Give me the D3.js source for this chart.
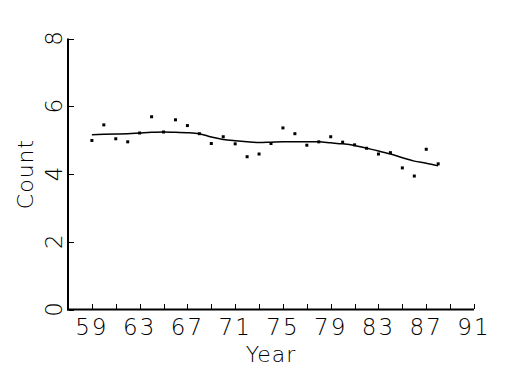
<!DOCTYPE html>
<html><head><meta charset="utf-8">
<script src="https://cdn.jsdelivr.net/npm/d3@7"></script>
<style>
body{margin:0;background:#fff;}
text{font-family:"DejaVu Sans",sans-serif;font-weight:200;fill:#000;}
</style></head>
<body><svg id="c" width="525" height="375"></svg>
<script>
const years = [59,60,61,62,63,64,65,66,67,68,69,70,71,72,73,74,75,76,77,78,79,80,81,82,83,84,85,86,87,88];
const counts = [4.99,5.45,5.04,4.95,5.21,5.69,5.24,5.60,5.43,5.19,4.90,5.10,4.89,4.51,4.59,4.90,5.36,5.19,4.85,4.95,5.10,4.94,4.86,4.76,4.59,4.63,4.18,3.94,4.73,4.30];
const smooth = [5.16,5.17,5.18,5.19,5.21,5.23,5.24,5.23,5.22,5.19,5.09,5.02,4.98,4.95,4.93,4.94,4.95,4.95,4.95,4.95,4.92,4.89,4.84,4.76,4.68,4.59,4.48,4.38,4.32,4.24];
const xTicks = d3.range(59, 92, 2);
const xLabels = [59,63,67,71,75,79,83,87,91];
const yTicks = [0,2,4,6,8];

const svg = d3.select("#c");
const x = d3.scaleLinear().domain([57,91]).range([68,474]);
const y = d3.scaleLinear().domain([0,8]).range([309.5,38.5]);

// axes lines
svg.append("line").attr("x1",68).attr("x2",68).attr("y1",y(8)).attr("y2",310.5).attr("stroke","#000").attr("stroke-width",2);
svg.append("line").attr("x1",67).attr("x2",x(91)).attr("y1",309.5).attr("y2",309.5).attr("stroke","#000").attr("stroke-width",2);

// x ticks (inward)
svg.selectAll(".xt").data(xTicks).enter().append("line")
  .attr("x1",d=>Math.round(x(d))+0.5).attr("x2",d=>Math.round(x(d))+0.5)
  .attr("y1",309).attr("y2",304).attr("stroke","#000").attr("stroke-width",1);
svg.selectAll(".xl").data(xLabels).enter().append("text")
  .attr("x",d=>x(d)).attr("y",335).attr("text-anchor","middle")
  .style("font-size","23px").style("letter-spacing","2px").text(d=>d);

// y ticks
svg.selectAll(".yt").data(yTicks).enter().append("line")
  .attr("x1",69).attr("x2",74).attr("y1",d=>Math.round(y(d))+0.5).attr("y2",d=>Math.round(y(d))+0.5)
  .attr("stroke","#000").attr("stroke-width",1);
svg.selectAll(".yl").data(yTicks).enter().append("text")
  .attr("transform",d=>`translate(62,${y(d)}) rotate(-90)`).attr("text-anchor","middle")
  .style("font-size","23px").text(d=>d);

// axis titles
svg.append("text").attr("x",271).attr("y",362).attr("text-anchor","middle")
  .style("font-size","22px").style("letter-spacing","1px").text("Year");
svg.append("text").attr("transform","translate(33,174) rotate(-90)").attr("text-anchor","middle")
  .style("font-size","22px").style("letter-spacing","1px").text("Count");

// smooth line
const line = d3.line().x((d,i)=>x(years[i])).y(d=>y(d)).curve(d3.curveMonotoneX);
svg.append("path").datum(smooth).attr("d",line).attr("fill","none").attr("stroke","#000").attr("stroke-width",1.5);

// points
svg.selectAll(".pt").data(counts).enter().append("rect")
  .attr("x",(d,i)=>x(years[i])-1.5).attr("y",d=>y(d)-1.5).attr("width",3).attr("height",3).attr("fill","#000");
</script></body></html>
